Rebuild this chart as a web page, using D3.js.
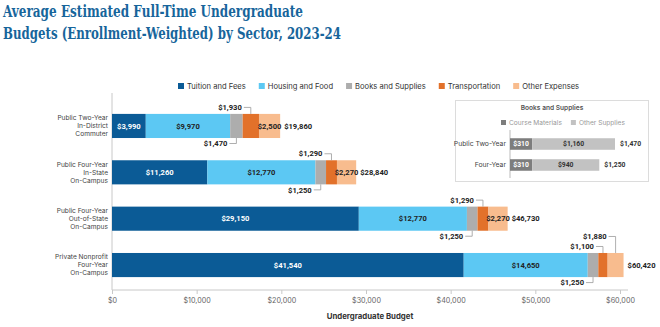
<!DOCTYPE html>
<html>
<head>
<meta charset="utf-8">
<script src="https://cdn.jsdelivr.net/npm/d3@7"></script>
<style>
  body { margin: 0; background: #fff; }
  svg { display: block; font-family: Inter, "Noto Sans", sans-serif; }
</style>
</head>
<body>
<div id="chart"></div>
<script>
const titleLines = ["Average Estimated Full-Time Undergraduate", "Budgets (Enrollment-Weighted) by Sector, 2023-24"];
const sectors = [
  ["Public Two-Year", "In-District", "Commuter"],
  ["Public Four-Year", "In-State", "On-Campus"],
  ["Public Four-Year", "Out-of-State", "On-Campus"],
  ["Private Nonprofit", "Four-Year", "On-Campus"]
];
const seriesNames = ["Tuition and Fees", "Housing and Food", "Books and Supplies", "Transportation", "Other Expenses"];
const tuition = [3990, 11260, 29150, 41540];
const housing = [9970, 12770, 12770, 14650];
const books = [1470, 1250, 1250, 1250];
const transportation = [1930, 1290, 1290, 1100];
const otherExpenses = [2500, 2270, 2270, 1880];
const totals = [19860, 28840, 46730, 60420];
const xTicks = [0, 10000, 20000, 30000, 40000, 50000, 60000];

const insetCategories = ["Public Two-Year", "Four-Year"];
const insetSeries = ["Course Materials", "Other Supplies"];
const courseMaterials = [310, 310];
const otherSupplies = [1160, 940];
const insetTotals = [1470, 1250];

const colors = ["#0b5b96", "#5cc8f3", "#adadad", "#e2712a", "#f8bc8e"];
const insetColors = ["#7d7d7d", "#c2c2c2"];
const money = d3.format("$,");
const labelFont = "Roboto, Inter, sans-serif";

const width = 660, height = 327;
const svg = d3.select("#chart").append("svg").attr("width", width).attr("height", height);

// title
svg.append("g").selectAll("text")
  .data(titleLines)
  .join("text")
  .attr("x", 3)
  .attr("y", (d, i) => 17 + i * 21.5)
  .attr("font-family", "'DejaVu Serif Condensed', 'DejaVu Serif', serif")
  .attr("font-weight", "bold")
  .attr("font-size", 17.5)
  .attr("fill", "#17659b")
  .attr("textLength", (d, i) => i === 0 ? 300 : 338)
  .attr("lengthAdjust", "spacingAndGlyphs")
  .text(d => d);

// legend
const legend = svg.append("g");
let lx = 178;
seriesNames.forEach((name, i) => {
  legend.append("rect").attr("x", lx).attr("y", 83).attr("width", 6).attr("height", 6).attr("fill", colors[i]);
  const t = legend.append("text").attr("x", lx + 9).attr("y", 86).attr("dy", "0.35em")
    .attr("font-size", 7.6).attr("fill", "#333").text(name);
  lx += 9 + t.node().getComputedTextLength() + 13;
});

// main chart
const rows = sectors.map((s, i) => ({
  idx: i,
  values: [tuition[i], housing[i], books[i], transportation[i], otherExpenses[i]],
  total: totals[i]
}));

const x = d3.scaleLinear().domain([0, 60000]).range([112, 620]);
const y = d3.scaleBand().domain(d3.range(sectors.length)).range([100, 291]).paddingInner(0.48).paddingOuter(0.3);
const bh = y.bandwidth();

// axes lines
svg.append("line").attr("x1", 112).attr("x2", 112).attr("y1", 93).attr("y2", 290).attr("stroke", "#c8c8c8");
const xAxis = svg.append("g").attr("transform", "translate(0,290)")
  .call(d3.axisBottom(x).tickValues(xTicks).tickFormat(d3.format("$,")).tickSize(4).tickSizeOuter(0));
xAxis.select(".domain").attr("stroke", "#c8c8c8").attr("d", "M112,0H628");
xAxis.selectAll(".tick line").attr("stroke", "#c8c8c8");
xAxis.selectAll(".tick text").attr("font-family", "Inter, sans-serif").attr("font-size", 7.2).attr("fill", "#666").attr("dy", "0.9em");

svg.append("text").attr("x", 370).attr("y", 319).attr("text-anchor", "middle")
  .attr("font-size", 7.8).attr("font-weight", "bold").attr("fill", "#333").text("Undergraduate Budget");

// category labels
sectors.forEach((lines, i) => {
  const cy = y(i) + bh / 2;
  svg.append("text").attr("text-anchor", "end").attr("font-size", 6.6).attr("fill", "#444")
    .selectAll("tspan").data(lines).join("tspan")
    .attr("x", 108).attr("y", (d, j) => cy + (j - 1) * 8).attr("dy", "0.35em").text(d => d);
});

const stacked = d3.stack().keys(d3.range(seriesNames.length)).value((d, k) => d.values[k])(rows);

svg.append("g").selectAll("g").data(stacked).join("g")
  .attr("fill", (d, k) => colors[k])
  .selectAll("rect").data(d => d).join("rect")
  .attr("x", d => x(d[0]))
  .attr("y", d => y(d.data.idx))
  .attr("width", d => x(d[1]) - x(d[0]))
  .attr("height", bh);

// segment labels
const labelG = svg.append("g").attr("font-family", labelFont).attr("font-size", 7.6).attr("font-weight", "bold");
stacked.forEach((layer, k) => {
  layer.forEach(seg => {
    const i = seg.data.idx;
    const val = seg.data.values[k];
    const x0 = x(seg[0]), x1 = x(seg[1]);
    const cx = (x0 + x1) / 2;
    const top = y(i), bottom = y(i) + bh;
    if (x1 - x0 >= 18) {
      labelG.append("text").attr("x", cx).attr("y", top + bh / 2).attr("dy", "0.35em")
        .attr("text-anchor", "middle").attr("fill", k === 0 ? "#fff" : "#222").text(money(val));
      return;
    }
    let ly, vy;
    if (k === 2) {
      ly = bottom + 5.5; vy = bottom;
    } else {
      const level = rows[i].values.slice(3, k).filter(v => x(v) - x(0) < 18).length;
      ly = top - 6.5 - level * 10; vy = top;
    }
    labelG.append("text").attr("x", cx - 9).attr("y", ly).attr("dy", "0.35em")
      .attr("text-anchor", "end").attr("fill", "#222").text(money(val));
    svg.append("path")
      .attr("d", `M${cx - 7},${ly}H${cx}V${vy}`)
      .attr("fill", "none").attr("stroke", "#9a9a9a").attr("stroke-width", 0.8);
  });
});

// totals
labelG.selectAll(".total").data(rows).join("text")
  .attr("class", "total")
  .attr("x", d => x(d.total) + 4)
  .attr("y", d => y(d.idx) + bh / 2)
  .attr("dy", "0.35em")
  .attr("fill", "#222")
  .text(d => money(d.total));

// inset
const inset = svg.append("g");
inset.append("rect").attr("x", 455.5).attr("y", 100.5).attr("width", 193).attr("height", 81)
  .attr("fill", "#fff").attr("stroke", "#dcdcdc");
inset.append("text").attr("x", 552).attr("y", 108).attr("dy", "0.35em").attr("text-anchor", "middle")
  .attr("font-size", 6.6).attr("font-weight", 600).attr("fill", "#555").text("Books and Supplies");

let ix = 501;
insetSeries.forEach((name, i) => {
  inset.append("rect").attr("x", ix).attr("y", 120).attr("width", 5).attr("height", 5).attr("fill", insetColors[i]);
  const t = inset.append("text").attr("x", ix + 8).attr("y", 122.5).attr("dy", "0.35em")
    .attr("font-size", 6.6).attr("fill", "#999").text(name);
  ix += 8 + t.node().getComputedTextLength() + 9;
});

const ixs = d3.scaleLinear().domain([0, d3.max(insetTotals)]).range([510, 615]);
const iy = d3.scaleBand().domain(d3.range(insetCategories.length)).range([133, 176]).paddingInner(0.45).paddingOuter(0.25);
const ibh = iy.bandwidth();

inset.append("line").attr("x1", 510).attr("x2", 510).attr("y1", 130).attr("y2", 178).attr("stroke", "#bbb");

const insetRows = insetCategories.map((c, i) => ({ idx: i, values: [courseMaterials[i], otherSupplies[i]], total: insetTotals[i] }));
const insetStack = d3.stack().keys([0, 1]).value((d, k) => d.values[k])(insetRows);

inset.append("g").selectAll("g").data(insetStack).join("g")
  .attr("fill", (d, k) => insetColors[k])
  .selectAll("rect").data(d => d).join("rect")
  .attr("x", d => ixs(d[0]))
  .attr("y", d => iy(d.data.idx))
  .attr("width", d => ixs(d[1]) - ixs(d[0]))
  .attr("height", ibh);

insetStack.forEach((layer, k) => {
  layer.forEach(seg => {
    inset.append("text")
      .attr("x", (ixs(seg[0]) + ixs(seg[1])) / 2)
      .attr("y", iy(seg.data.idx) + ibh / 2).attr("dy", "0.35em")
      .attr("text-anchor", "middle").attr("font-family", labelFont).attr("font-size", 6.8).attr("font-weight", "bold")
      .attr("fill", k === 0 ? "#fff" : "#333")
      .text(money(seg.data.values[k]));
  });
});

inset.selectAll(".cat").data(insetRows).join("text")
  .attr("class", "cat")
  .attr("x", 506).attr("y", d => iy(d.idx) + ibh / 2).attr("dy", "0.35em")
  .attr("text-anchor", "end").attr("font-size", 6.8).attr("fill", "#444")
  .text(d => insetCategories[d.idx]);

inset.selectAll(".itot").data(insetRows).join("text")
  .attr("class", "itot")
  .attr("x", d => ixs(d.total) + 5).attr("y", d => iy(d.idx) + ibh / 2).attr("dy", "0.35em")
  .attr("font-family", labelFont).attr("font-size", 6.8).attr("font-weight", "bold").attr("fill", "#333")
  .text(d => money(d.total));
</script>
</body>
</html>
